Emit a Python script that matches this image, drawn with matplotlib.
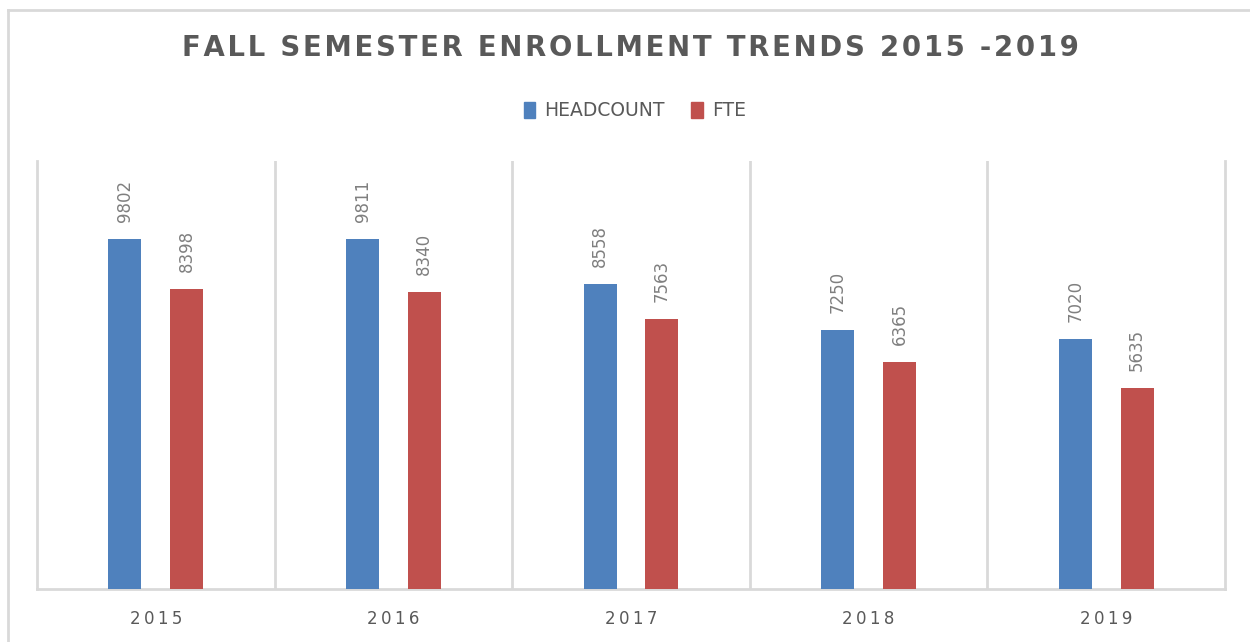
import matplotlib
matplotlib.use("Agg")
import matplotlib.pyplot as plt
import numpy as np
from matplotlib.lines import Line2D
from matplotlib.patches import Patch

years = ["2015", "2016", "2017", "2018", "2019"]
headcount = [9802, 9811, 8558, 7250, 7020]
fte = [8398, 8340, 7563, 6365, 5635]
title = "FALL SEMESTER ENROLLMENT TRENDS 2015 -2019"

BLUE = "#4f81bd"
RED = "#c0504d"
GRID = "#d9d9d9"
TXT = "#595959"

def spaced(s, sp="\u200a"):
    return sp.join(list(s))

fig = plt.figure(figsize=(12.5, 6.42), dpi=100)
ax = fig.add_axes([37/1250, 53/642, (1225-37)/1250, (589-161)/642])

x = np.arange(len(years))
w = 0.139
off = 0.13
b1 = ax.bar(x - off, headcount, w, color=BLUE, zorder=3)
b2 = ax.bar(x + off, fte, w, color=RED, zorder=3)

for bars, vals in ((b1, headcount), (b2, fte)):
    for r, v in zip(bars, vals):
        ax.annotate(str(v), (r.get_x() + r.get_width()/2, r.get_height()),
                    xytext=(0, 17), textcoords="offset pixels",
                    rotation=90, ha="center", va="bottom",
                    fontsize=12, color="#7f7f7f")

ax.set_xlim(-0.5, len(years) - 0.5)
ax.set_ylim(0, 12000)
ax.set_yticks([])
ax.set_xticks(x)
ax.set_xticklabels([spaced(y, "\u2009") for y in years], fontsize=12, color=TXT)
ax.tick_params(axis="x", length=0, pad=15)
for b in np.arange(0.5, len(years) - 0.5, 1):
    ax.axvline(b, color=GRID, lw=2, zorder=1)
for s in ["left", "right", "bottom"]:
    ax.spines[s].set_color(GRID)
    ax.spines[s].set_linewidth(2)
ax.spines["top"].set_visible(False)

fig.text(0.504, 1 - 48/642, spaced(title, "\u200a"), ha="center", va="center",
         fontsize=19.8, fontweight="bold", color=TXT)

handles = [Patch(color=BLUE, label="HEADCOUNT"), Patch(color=RED, label="FTE")]
fig.legend(handles=handles, loc="center", bbox_to_anchor=(0.508, 1 - 111/642),
           ncol=2, frameon=False, fontsize=13.5, handlelength=0.6, handleheight=0.9,
           handletextpad=0.5, columnspacing=1.4, labelcolor=TXT)

# partial figure border (top and left)
fig.add_artist(Line2D([8/1250, 8/1250], [0, 1 - 10/642], transform=fig.transFigure, color=GRID, lw=2))
fig.add_artist(Line2D([8/1250, 1], [1 - 10/642, 1 - 10/642], transform=fig.transFigure, color=GRID, lw=2))

fig.savefig("out.png", dpi=100)
